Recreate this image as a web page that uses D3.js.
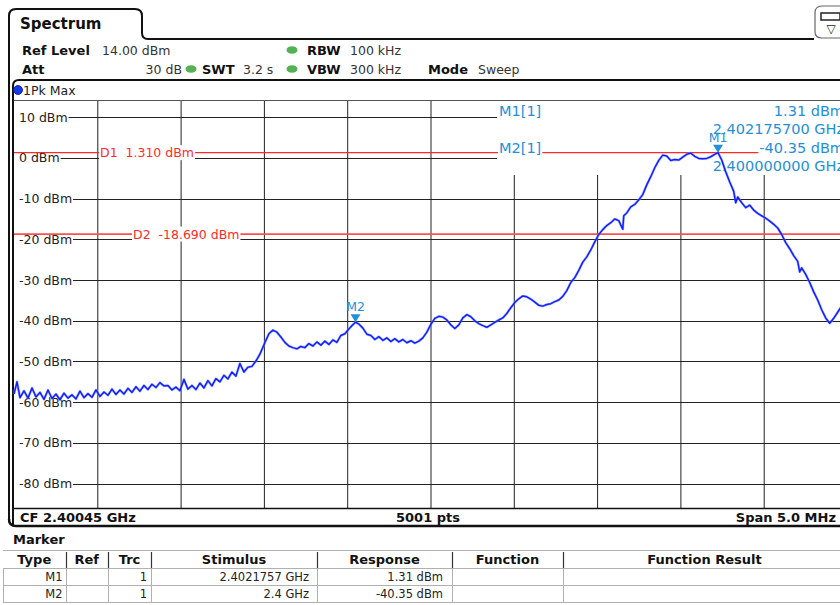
<!DOCTYPE html>
<html><head><meta charset="utf-8">
<script src="https://cdn.jsdelivr.net/npm/d3@7"></script>
<style>
html,body{margin:0;padding:0;background:#fff;overflow:hidden}
svg{display:block;font-family:"DejaVu Sans",Verdana,sans-serif}
</style></head><body>
<svg id="c" width="840" height="605"></svg>
<script>
// ---------------- data ----------------
const refLevel = 14;          // dBm, top of the grid
const rangeDb = 100;          // dB shown
const centerMHz = 2400.45;
const spanMHz = 5.0;
const yTicks = [10, 0, -10, -20, -30, -40, -50, -60, -70, -80];
const xGridMHz = [2398.45, 2398.95, 2399.45, 2399.95, 2400.45, 2400.95, 2401.45, 2401.95, 2402.45];
const markerNames = ["M1", "M2"];
const markerMHz = [2402.1757, 2400.0];
const markerDbm = [1.31, -40.35];
const dLineNames = ["D1", "D2"];
const dLineDbm = [1.31, -18.69];
const tableHeaders = ["Type", "Ref", "Trc", "Stimulus", "Response", "Function", "Function Result"];
const tableRows = [
  ["M1", "", "1", "2.4021757 GHz", "1.31 dBm", "", ""],
  ["M2", "", "1", "2.4 GHz", "-40.35 dBm", "", ""]
];
// trace samples: [MHz, dBm]
const traceSamples = [
[2397.950,-58.0],[2397.968,-55.0],[2397.986,-58.9],[2398.010,-57.2],[2398.034,-59.0],[2398.058,-56.5],[2398.082,-58.7],[2398.106,-57.6],[2398.130,-59.3],[2398.154,-57.0],[2398.178,-59.1],[2398.202,-58.0],[2398.226,-59.4],[2398.250,-57.8],[2398.274,-59.0],[2398.298,-58.2],[2398.322,-59.2],[2398.346,-57.3],[2398.370,-58.9],[2398.394,-57.9],[2398.418,-58.8],[2398.442,-57.0],[2398.466,-58.6],[2398.490,-57.5],[2398.514,-58.3],[2398.538,-56.8],[2398.562,-58.1],[2398.586,-57.0],[2398.610,-58.0],[2398.634,-56.6],[2398.658,-57.6],[2398.682,-56.2],[2398.706,-57.3],[2398.730,-55.9],[2398.754,-56.9],[2398.778,-55.6],[2398.802,-56.4],[2398.826,-55.2],[2398.850,-56.0],[2398.874,-55.9],[2398.898,-57.0],[2398.922,-56.3],[2398.946,-57.2],[2398.970,-54.4],[2398.994,-56.8],[2399.018,-55.9],[2399.042,-56.9],[2399.066,-55.3],[2399.090,-56.5],[2399.114,-54.7],[2399.138,-56.0],[2399.162,-54.2],[2399.186,-55.0],[2399.210,-53.4],[2399.234,-54.3],[2399.258,-52.6],[2399.282,-53.6],[2399.306,-50.5],[2399.330,-52.6],[2399.354,-51.4],[2399.378,-51.2],[2399.402,-49.9],[2399.426,-48.2],[2399.444,-46.5],[2399.462,-44.8],[2399.480,-43.2],[2399.504,-42.3],[2399.528,-42.8],[2399.552,-44.0],[2399.576,-45.3],[2399.600,-46.2],[2399.624,-46.6],[2399.648,-46.9],[2399.672,-46.3],[2399.696,-46.6],[2399.720,-45.6],[2399.744,-46.2],[2399.768,-45.2],[2399.792,-46.0],[2399.816,-45.0],[2399.840,-45.8],[2399.864,-44.7],[2399.888,-45.3],[2399.912,-43.6],[2399.936,-43.2],[2399.960,-42.0],[2399.978,-41.2],[2400.000,-40.35],[2400.020,-40.8],[2400.044,-41.8],[2400.068,-43.3],[2400.092,-43.6],[2400.116,-44.6],[2400.140,-43.9],[2400.164,-44.8],[2400.188,-44.2],[2400.212,-45.1],[2400.236,-44.4],[2400.260,-45.2],[2400.284,-44.6],[2400.308,-45.4],[2400.332,-44.9],[2400.356,-45.5],[2400.380,-45.0],[2400.404,-44.2],[2400.428,-42.8],[2400.452,-40.9],[2400.476,-39.4],[2400.500,-38.9],[2400.524,-39.1],[2400.548,-39.8],[2400.572,-41.0],[2400.596,-41.9],[2400.620,-41.0],[2400.644,-39.3],[2400.668,-38.5],[2400.692,-39.0],[2400.716,-40.0],[2400.740,-40.7],[2400.764,-41.2],[2400.788,-41.6],[2400.812,-41.0],[2400.836,-40.4],[2400.860,-39.8],[2400.884,-39.3],[2400.908,-38.2],[2400.932,-36.8],[2400.956,-35.5],[2400.980,-34.6],[2401.004,-33.9],[2401.028,-34.1],[2401.052,-34.7],[2401.076,-35.4],[2401.100,-36.2],[2401.124,-36.4],[2401.148,-36.0],[2401.172,-35.8],[2401.196,-35.3],[2401.220,-34.9],[2401.244,-34.0],[2401.268,-32.6],[2401.292,-30.6],[2401.316,-29.4],[2401.340,-27.6],[2401.364,-25.6],[2401.388,-24.3],[2401.412,-22.6],[2401.436,-20.6],[2401.460,-18.8],[2401.484,-17.6],[2401.508,-16.6],[2401.532,-15.9],[2401.556,-15.0],[2401.580,-15.4],[2401.604,-17.5],[2401.610,-14.2],[2401.628,-13.5],[2401.652,-12.0],[2401.676,-11.4],[2401.700,-10.3],[2401.724,-9.0],[2401.748,-6.6],[2401.772,-4.6],[2401.796,-2.4],[2401.820,-0.6],[2401.844,0.7],[2401.868,0.5],[2401.892,-0.6],[2401.916,-0.4],[2401.940,-0.5],[2401.964,0.2],[2401.988,0.9],[2402.012,1.2],[2402.036,0.4],[2402.060,-0.1],[2402.084,-0.2],[2402.108,-0.1],[2402.132,0.3],[2402.156,0.9],[2402.1757,1.31],[2402.198,-0.5],[2402.222,-3.4],[2402.246,-5.9],[2402.270,-8.2],[2402.282,-11.0],[2402.294,-9.6],[2402.318,-11.0],[2402.342,-12.2],[2402.366,-11.6],[2402.390,-12.8],[2402.414,-13.6],[2402.438,-14.2],[2402.462,-14.8],[2402.486,-15.5],[2402.510,-16.3],[2402.534,-17.2],[2402.558,-18.8],[2402.582,-20.8],[2402.606,-22.3],[2402.630,-24.0],[2402.654,-25.4],[2402.666,-28.0],[2402.678,-27.0],[2402.702,-28.6],[2402.726,-30.6],[2402.750,-32.9],[2402.774,-34.9],[2402.798,-37.3],[2402.822,-39.3],[2402.846,-40.6],[2402.870,-39.4],[2402.894,-37.9],[2402.918,-36.4],[2402.950,-35.0]
];

// ---------------- layout ----------------
const svg = d3.select("#c");
const G = {left: 14, right: 847, top: 101, bottom: 508};
const x = d3.scaleLinear().domain([centerMHz - spanMHz / 2, centerMHz + spanMHz / 2]).range([G.left, G.right]);
const y = d3.scaleLinear().domain([refLevel, refLevel - rangeDb]).range([G.top, G.bottom]);
const BLUE = "#1f8fd8", RED = "#ff2a2a", TRACE = "#1020ff";
const NB = "\u00a0";

svg.append("rect").attr("width", 840).attr("height", 605).attr("fill", "#fff");

// tab and frames
svg.append("path").attr("fill", "none").attr("stroke", "#111").attr("stroke-width", 2)
  .attr("d", "M9,522 V16 Q9,9 16,9 H135 Q142,9 142,16 V33 Q142,39 148,39 H814");
svg.append("path").attr("fill", "#fff").attr("stroke", "#666").attr("stroke-width", 1.2)
  .attr("d", "M846,6 H822 Q815,6 815,13 V32 Q815,38 822,38 H846");
svg.append("rect").attr("x", 821).attr("y", 13).attr("width", 19).attr("height", 7).attr("fill", "none").attr("stroke", "#222").attr("stroke-width", 1.5);
svg.append("text").attr("x", 831).attr("y", 33).attr("font-size", 12).attr("text-anchor", "middle").attr("fill", "#222").text("▽");
svg.append("text").attr("x", 20).attr("y", 29).attr("font-size", 15).attr("font-weight", "bold").attr("fill", "#111").text("Spectrum");

// header parameters
const hdr = svg.append("g").attr("fill", "#111");
function ht(xx, yy, t, bold, anchor) {
  hdr.append("text").attr("x", xx).attr("y", yy).attr("font-size", bold ? 13 : 12.5)
    .attr("font-weight", bold ? "bold" : "normal").attr("text-anchor", anchor || "start")
    .attr("fill", bold ? "#111" : "#333").text(t);
}
function dot(cx, cy) {
  hdr.append("ellipse").attr("cx", cx).attr("cy", cy).attr("rx", 5.5).attr("ry", 3.8).attr("fill", "#55b155");
}
ht(22, 55, "Ref Level", true); ht(102, 55, "14.00 dBm");
dot(292, 50); ht(307, 55, "RBW", true); ht(350, 55, "100 kHz");
ht(22, 74, "Att", true); ht(182, 74, "30 dB", false, "end");
dot(191, 69); ht(202, 74, "SWT", true); ht(243, 74, "3.2 s");
dot(292, 69); ht(307, 74, "VBW", true); ht(350, 74, "300 kHz");
ht(428, 74, "Mode", true); ht(478, 74, "Sweep");

// plot frame
svg.append("path").attr("fill", "none").attr("stroke", "#111").attr("stroke-width", 2)
  .attr("d", "M13,526 V86 Q13,80 19,80 H840");
svg.append("line").attr("x1", 14).attr("x2", 840).attr("y1", G.top - 0.5).attr("y2", G.top - 0.5).attr("stroke", "#555").attr("stroke-width", 1);
svg.append("circle").attr("cx", 18).attr("cy", 90).attr("r", 4.5).attr("fill", "#1838e8").attr("stroke", "#0a1a80").attr("stroke-width", 0.8);
svg.append("text").attr("x", 23).attr("y", 95).attr("font-size", 12.5).attr("fill", "#222").text("1Pk Max");

// vertical grid via axis
svg.append("g").attr("transform", `translate(0,${G.bottom})`)
  .call(d3.axisBottom(x).tickValues(xGridMHz).tickSize(-(G.bottom - G.top)).tickFormat(""))
  .call(g => g.select(".domain").remove())
  .call(g => g.selectAll(".tick line").attr("stroke", "#222").attr("stroke-width", 1));

// horizontal grid with inline labels
const yl = svg.append("g");
yTicks.forEach(v => {
  const t = yl.append("text").attr("x", 19).attr("y", y(v)).attr("dy", "0.36em")
    .attr("font-size", 12.5).attr("fill", "#222").text(`${v} dBm`);
  const w = t.node().getComputedTextLength();
  yl.append("line").attr("x1", 19 + w + 1).attr("x2", G.right).attr("y1", Math.round(y(v)) + 0.5).attr("y2", Math.round(y(v)) + 0.5)
    .attr("stroke", "#222").attr("stroke-width", 1);
});

// marker info box (white panel)
svg.append("rect").attr("x", 497).attr("y", G.top).attr("width", 360).attr("height", 175 - G.top).attr("fill", "#fff");

// display lines
dLineDbm.forEach((v, i) => {
  svg.append("line").attr("x1", G.left).attr("x2", G.right).attr("y1", y(v)).attr("y2", y(v))
    .attr("stroke", i === 0 ? RED : "#ff5050").attr("stroke-width", i === 0 ? 1.2 : 1.8);
});

function bgText(xx, yy, txt, size, color, anchor) {
  const g = svg.append("g");
  const t = g.append("text").attr("x", xx).attr("y", yy).attr("dy", "0.36em").attr("font-size", size)
    .attr("fill", color).attr("text-anchor", anchor || "start").text(txt);
  const b = t.node().getBBox();
  g.insert("rect", "text").attr("x", b.x - 1).attr("y", b.y).attr("width", b.width + 2).attr("height", b.height).attr("fill", "#fff");
  return g;
}
// display line labels
const dLabelX = [100, 133];
dLineNames.forEach((n, i) => {
  bgText(dLabelX[i], y(dLineDbm[i]), `${n}${NB}${NB}${dLineDbm[i].toFixed(3)} dBm`, 12.5, RED);
});

// marker info text
const infoY = [[111, 129], [148, 166]];
markerNames.forEach((n, i) => {
  bgText(499, infoY[i][0], `${n}[1]`, 14.5, BLUE);
  bgText(844, infoY[i][0], `${markerDbm[i].toFixed(2)} dBm`, 14.5, BLUE, "end");
  bgText(844, infoY[i][1], `${(markerMHz[i] / 1000).toFixed(9)} GHz`, 14.5, BLUE, "end");
});

// trace
const line = d3.line().x(d => x(d[0])).y(d => y(d[1]));
svg.append("path").datum(traceSamples).attr("fill", "none").attr("stroke", "#7f8cff")
  .attr("stroke-width", 2.6).attr("stroke-linejoin", "round").attr("opacity", 0.6).attr("d", line);
svg.append("path").datum(traceSamples).attr("fill", "none").attr("stroke", TRACE)
  .attr("stroke-width", 1.5).attr("stroke-linejoin", "round").attr("d", line);

// markers
markerNames.forEach((n, i) => {
  const mx = x(markerMHz[i]), my = y(markerDbm[i]);
  svg.append("path").attr("d", `M${mx - 5},${my - 8} L${mx + 5},${my - 8} L${mx},${my} Z`).attr("fill", BLUE);
  svg.append("text").attr("x", mx).attr("y", my - 11).attr("text-anchor", "middle")
    .attr("font-size", 12.5).attr("fill", BLUE).text(n);
});

// bottom status row
svg.append("line").attr("x1", 14).attr("x2", 840).attr("y1", G.bottom + 0.5).attr("y2", G.bottom + 0.5).attr("stroke", "#111").attr("stroke-width", 1.5);
svg.append("path").attr("fill", "none").attr("stroke", "#111").attr("stroke-width", 2.5)
  .attr("d", "M9,519 Q9,526 16,526 H840");
svg.append("text").attr("x", 20).attr("y", 522).attr("font-size", 13).attr("font-weight", "bold").attr("fill", "#111").text("CF 2.40045 GHz");
svg.append("text").attr("x", 428).attr("y", 522).attr("text-anchor", "middle").attr("font-size", 13).attr("font-weight", "bold").attr("fill", "#111").text("5001 pts");
svg.append("text").attr("x", 836).attr("y", 522).attr("text-anchor", "end").attr("font-size", 13).attr("font-weight", "bold").attr("fill", "#111").text("Span 5.0 MHz");

// marker table
svg.append("text").attr("x", 13).attr("y", 544).attr("font-size", 13).attr("font-weight", "bold").attr("fill", "#111").text("Marker");
const colX = [3, 65.5, 108, 151, 317, 452, 563, 848];
const rowY = [550, 568, 585, 602];
const tb = svg.append("g");
rowY.forEach((ry, i) => tb.append("line").attr("x1", colX[0]).attr("x2", 840).attr("y1", ry + 0.5).attr("y2", ry + 0.5)
  .attr("stroke", "#b0b0b0").attr("stroke-width", 1));
colX.slice(0, -1).forEach((cx, j) => {
  tb.append("line").attr("x1", Math.round(cx) + 0.5).attr("x2", Math.round(cx) + 0.5).attr("y1", rowY[1]).attr("y2", rowY[3])
    .attr("stroke", "#b0b0b0");
  if (j > 0) tb.append("line").attr("x1", Math.round(cx) + 0.5).attr("x2", Math.round(cx) + 0.5).attr("y1", rowY[0] + 2).attr("y2", rowY[1])
    .attr("stroke", "#333").attr("stroke-width", 1.2);
});
tableHeaders.forEach((h, j) => {
  tb.append("text").attr("x", (colX[j] + Math.min(colX[j + 1], 840)) / 2 + (j === 6 ? 3 : 0)).attr("y", 564).attr("text-anchor", "middle")
    .attr("font-size", 13).attr("font-weight", "bold").attr("fill", "#111").text(h);
});
const padR = [3, 0, 4, 8, 9, 4, 4];
tableRows.forEach((r, i) => {
  r.forEach((c, j) => {
    if (!c) return;
    tb.append("text").attr("x", colX[j + 1] - padR[j]).attr("y", rowY[i + 1] + 13).attr("text-anchor", "end")
      .attr("font-size", 11.5).attr("fill", "#222").text(c);
  });
});
</script></body></html>
